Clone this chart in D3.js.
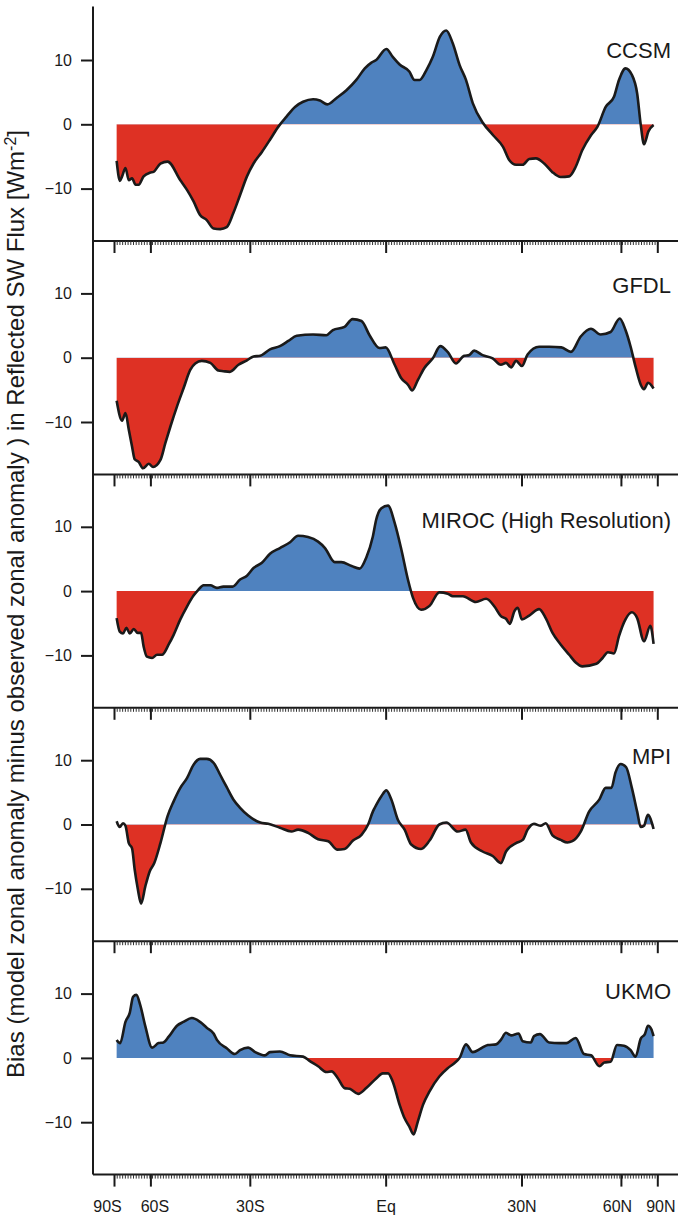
<!DOCTYPE html>
<html>
<head>
<meta charset="utf-8">
<script src="https://cdn.jsdelivr.net/npm/d3@7"></script>
<style>
  body { margin: 0; background: #fff; }
  svg { display: block; }
  text { font-family: "Liberation Sans", Arial, Helvetica, sans-serif; fill: #1a1a1a; }
</style>
</head>
<body>
<div class="plot"></div>
<script>
// model names, one panel each
const models = ["CCSM", "GFDL", "MIROC (High Resolution)", "MPI", "UKMO"];

// [latitude, bias in W m-2]
const ccsm = [[-82,-5.7],[-78,-8.8],[-76,-8.1],[-73.3,-6.8],[-71,-8.7],[-69,-8.4],[-67,-9.4],[-65.4,-9.4],[-63,-8.1],[-60,-7.5],[-58.7,-7.4],[-56,-6.1],[-53.4,-5.8],[-49.1,-8.7],[-47,-10.2],[-45,-12.0],[-43.1,-14.1],[-41.2,-14.9],[-39.3,-16.2],[-37.5,-16.3],[-35.8,-16.0],[-34.1,-13.8],[-32.4,-11.0],[-30.7,-8.1],[-29.1,-6.1],[-27.1,-4.3],[-25.2,-2.4],[-23.3,-0.4],[-21.4,1.2],[-19.5,2.7],[-17.7,3.5],[-15.5,3.9],[-14,3.7],[-12.4,3.1],[-10.4,4.1],[-8.3,5.3],[-6.2,6.9],[-4.4,8.7],[-3,9.6],[-2,10.0],[0.15,11.7],[1.5,10.5],[2.95,9.3],[5,8.2],[6.1,6.9],[7.2,6.9],[8.6,8.4],[10,10.5],[11.5,13.6],[12.9,14.6],[14.3,12.6],[15.8,9.2],[17.2,6.9],[18.7,3.3],[21,0.2],[23.3,-1.7],[25.6,-3.5],[27.1,-5.6],[28.7,-6.3],[30.3,-6.3],[31.9,-5.4],[33.6,-5.3],[35.7,-6.1],[37.8,-7.4],[40.1,-8.2],[42.5,-8.1],[44.4,-6.6],[46.4,-4.0],[49.1,-1.7],[51.2,-0.4],[54.1,2.7],[57.2,4.3],[59.2,6.9],[62,8.7],[65,7.7],[67.8,4.8],[69.9,-0.1],[72,-3.1],[75.3,-1.1],[80.5,-0.1]];

const gfdl = [[-82,-6.7],[-76,-9.8],[-73.3,-8.6],[-71,-11.2],[-69,-13.8],[-67.5,-15.8],[-65.4,-16.2],[-63.3,-17.2],[-60.7,-16.5],[-58.9,-17.0],[-56,-15.9],[-54.2,-13.3],[-52.4,-10.7],[-50.2,-7.6],[-48.1,-4.8],[-46,-1.9],[-44.5,-0.9],[-42.6,-0.5],[-40.2,-0.8],[-38,-2.0],[-36.7,-2.1],[-35,-2.2],[-32.8,-1.1],[-30.7,-0.4],[-29.1,0.2],[-27.5,0.3],[-25.2,1.3],[-22.9,1.8],[-21,2.6],[-19.1,3.4],[-15.5,3.6],[-12.6,3.5],[-11.2,4.3],[-8.7,4.8],[-7.0,6.0],[-5.1,5.7],[-3.4,3.5],[-1.3,1.5],[0,1.6],[1.9,-1.1],[3.3,-3.2],[4.7,-4.2],[5.6,-5.1],[6.8,-3.5],[8.2,-1.6],[10,-0.1],[11.6,1.8],[13.2,0.9],[15,-0.9],[16.8,0.3],[17.9,0.4],[19,1.1],[20.9,0.4],[23.2,-0.1],[25.1,-1.1],[26.3,-0.8],[27.5,-1.5],[28.7,-0.5],[30.1,-1.3],[31.5,0.5],[34.4,1.7],[37,1.7],[40.3,1.6],[43,0.9],[45.9,3.3],[49.1,4.5],[52.3,3.6],[55.9,4.0],[59.5,6.1],[62,4.3],[64.4,1.7],[66.9,-1.4],[69.9,-4.2],[72,-4.9],[75,-3.9],[80.5,-4.8]];

const miroc = [[-82,-4.2],[-78.2,-6.3],[-75.2,-6.6],[-72.6,-5.7],[-70.4,-6.6],[-68,-5.9],[-65.9,-6.5],[-64.2,-6.5],[-63,-8.6],[-61.5,-10.2],[-59.3,-10.4],[-57.3,-9.9],[-55.4,-9.9],[-53,-8.3],[-51.3,-6.8],[-49.1,-4.4],[-47,-2.4],[-45,-0.7],[-43.6,0.2],[-42.1,0.9],[-40.2,0.9],[-38.4,0.5],[-36.7,0.7],[-34.3,0.7],[-32.4,1.8],[-30.7,2.4],[-29.1,3.6],[-27.1,4.4],[-25.2,5.8],[-22.9,6.7],[-20.6,7.6],[-18.8,8.6],[-16.6,8.4],[-14.4,7.7],[-12.9,6.7],[-10.8,4.5],[-9.4,4.5],[-7.2,3.9],[-5.5,3.5],[-4.1,5.2],[-2.7,8.5],[-2,11.1],[-0.9,12.9],[0.5,13.3],[1.9,10.6],[3.3,6.5],[4.7,1.8],[5.8,-1.1],[7.5,-2.9],[9.3,-2.3],[11.4,-0.2],[13.2,-0.4],[14.3,-0.8],[16.5,-0.8],[19.4,-1.7],[21.7,-1.2],[23.6,-2.4],[25.1,-3.9],[26.3,-4.3],[27.2,-5.1],[28.3,-3.1],[29.1,-2.6],[30.1,-4.4],[31.9,-3.8],[34.4,-2.8],[36.1,-4.2],[37.9,-6.5],[40.1,-8.3],[42.5,-9.9],[44.4,-11.1],[46.4,-11.7],[50.9,-11.3],[53,-10.4],[54.9,-9.5],[57.2,-9.7],[59.2,-7.0],[62,-4.4],[65,-3.3],[67.8,-4.2],[72,-7.8],[77,-5.4],[80.5,-8.2]];

const mpi = [[-82,0.5],[-78.2,-0.4],[-75.2,0.2],[-73.3,-0.2],[-71,-2.9],[-69,-3.7],[-67.5,-7.0],[-65.9,-9.9],[-64.2,-12.3],[-62.2,-9.6],[-60.3,-7.3],[-58.4,-6.0],[-56,-2.9],[-53.4,1.3],[-51.3,3.6],[-49.1,5.7],[-47,7.2],[-45,9.3],[-43.1,10.2],[-41.2,10.2],[-39.3,9.6],[-37.5,7.7],[-35.8,5.8],[-34.1,3.9],[-32.4,2.6],[-30.4,1.4],[-27.5,0.3],[-25.6,0.1],[-22.9,-0.5],[-20.3,-1.1],[-18.8,-0.8],[-16.6,-1.3],[-14.4,-2.3],[-12.2,-2.6],[-10.3,-3.9],[-8.7,-3.8],[-6.9,-2.5],[-5.1,-1.6],[-3.7,0],[-2.7,2.0],[-2.3,2.6],[-0.9,4.4],[0.15,5.3],[1.2,3.9],[2.6,0.7],[4.0,-0.8],[5.4,-3.1],[7.5,-3.8],[9.3,-2.5],[11.4,0],[12.9,0.3],[15.4,-1.1],[17.1,-0.8],[18.3,-2.8],[20.9,-4.2],[23.2,-4.9],[25.1,-6.0],[26.3,-4.2],[28.7,-2.9],[30.3,-2.4],[31.5,-0.8],[33.1,0.1],[34.8,-0.2],[36.1,0.2],[37.9,-1.7],[40.1,-2.4],[42,-2.8],[43.4,-2.6],[45.9,-1.1],[48.5,2.0],[51.9,3.9],[54.1,5.7],[56.2,5.7],[57.8,8.1],[59.9,9.4],[62.3,8.9],[65,5.7],[67.8,2.0],[69.9,-0.4],[72,-0.2],[74.8,1.5],[80.5,-0.7]];

const ukmo = [[-82,2.8],[-77.8,2.3],[-73.3,5.6],[-70.4,7.0],[-68.4,9.5],[-66.6,9.8],[-64.6,8.2],[-62.2,4.9],[-59.3,1.6],[-56.7,2.3],[-54.9,2.4],[-53,3.3],[-50.2,5.0],[-48.1,5.6],[-45.5,6.2],[-43.1,5.6],[-41.2,4.7],[-39.3,3.8],[-38.4,2.8],[-35.8,1.5],[-33.7,0.6],[-32.4,1.2],[-30.4,1.6],[-28.7,0.9],[-26.4,0.4],[-25.2,0.9],[-22.9,1.0],[-20.6,0.4],[-17.7,0.2],[-16.2,-0.5],[-14.4,-1.3],[-12.6,-2.2],[-11.5,-2.1],[-10.1,-3.2],[-8.7,-4.7],[-7.6,-4.8],[-5.8,-5.6],[-4.1,-4.7],[-2,-3.2],[-0.6,-2.4],[0.5,-2.4],[1.5,-3.7],[2.95,-7.3],[4.0,-9.4],[5.0,-10.7],[5.9,-11.9],[6.8,-9.9],[7.9,-7.3],[9.3,-5.2],[11.4,-2.9],[13.2,-1.6],[14.7,-0.8],[15.8,0],[17.2,2.1],[18.7,0.9],[20.6,1.5],[22.1,2.0],[24,2.1],[25.1,2.8],[26.3,3.9],[27.5,3.5],[29.3,3.8],[30.3,2.6],[32.3,2.4],[33.1,3.4],[34.6,3.7],[37,2.4],[39.8,2.3],[41.7,2.3],[44.4,3.1],[46.9,0.6],[49.1,0.4],[51.9,-1.3],[53.6,-0.7],[55.9,-0.6],[58.4,2.0],[61.3,1.9],[64.4,1.2],[66.9,0.2],[69.9,3.0],[72.6,3.7],[75,5.0],[77.9,4.5],[80.5,3.4]];

const series = [ccsm, gfdl, miroc, mpi, ukmo];

// axis ticks
const yTicks = [-10, 0, 10];
const xTickLats = [-90, -60, -30, 0, 30, 60, 90];
const xTickLabels = ["90S", "60S", "30S", "Eq", "30N", "60N", "90N"];

const width = 678,
    height = 1219,
    axisX = 93,
    panelTop = 7.6,
    panelH = 233.4;

const blue = "#4f82bf",
    red = "#de3124",
    ink = "#1a1a1a";

const svg = d3.select(".plot").append("svg")
    .attr("width", width)
    .attr("height", height);

const defs = svg.append("defs");

// x is linear in sin(latitude)
const xScale = d3.scaleLinear().domain([-1, 1]).range([114, 657.3]);
const sinLat = lat => Math.sin(lat * Math.PI / 180);
const xLat = lat => xScale(sinLat(lat));

const fills = svg.append("g");
const axes = svg.append("g");

series.forEach(function(data, i) {
    const top = panelTop + i * panelH,
        bottom = top + panelH;

    const yScale = d3.scaleLinear()
        .domain([-18.15, 18.15])
        .range([bottom, top]);

    // clip regions above / below zero
    defs.append("clipPath").attr("id", "pos" + i)
        .append("rect")
        .attr("x", 0).attr("y", top)
        .attr("width", width).attr("height", yScale(0) - top);
    defs.append("clipPath").attr("id", "neg" + i)
        .append("rect")
        .attr("x", 0).attr("y", yScale(0))
        .attr("width", width).attr("height", bottom - yScale(0));

    const area = d3.area()
        .x(d => xLat(d[0]))
        .y0(yScale(0))
        .y1(d => yScale(d[1]))
        .curve(d3.curveMonotoneX);

    const line = d3.line()
        .x(d => xLat(d[0]))
        .y(d => yScale(d[1]))
        .curve(d3.curveMonotoneX);

    fills.append("path").datum(data)
        .attr("d", area)
        .attr("fill", blue)
        .attr("clip-path", "url(#pos" + i + ")");

    fills.append("path").datum(data)
        .attr("d", area)
        .attr("fill", red)
        .attr("clip-path", "url(#neg" + i + ")");

    fills.append("path").datum(data)
        .attr("d", line)
        .attr("fill", "none")
        .attr("stroke", ink)
        .attr("stroke-width", 2.6)
        .attr("stroke-linejoin", "round");

    // y axis ticks
    const yAxis = axes.append("g")
        .attr("transform", "translate(" + axisX + ",0)")
        .call(d3.axisLeft(yScale).tickValues(yTicks).tickSize(12).tickPadding(9));
    yAxis.select(".domain").remove();
    yAxis.selectAll("line").attr("stroke", ink).attr("stroke-width", 2);
    yAxis.selectAll("text")
        .attr("fill", ink)
        .style("font-size", "16px")
        .style("font-family", "'Liberation Sans', Arial, sans-serif");

    // panel bottom line
    axes.append("line")
        .attr("x1", axisX).attr("x2", width)
        .attr("y1", bottom).attr("y2", bottom)
        .attr("stroke", ink)
        .attr("stroke-width", 2);

    // minor (dotted) ticks
    const minor = axes.append("g")
        .attr("transform", "translate(0," + bottom + ")")
        .call(d3.axisBottom(xScale)
            .tickValues(d3.range(-100, 101).map(k => k / 100))
            .tickSize(4).tickFormat(""));
    minor.select(".domain").remove();
    minor.selectAll("line").attr("stroke", "#333").attr("stroke-width", 1);

    // major ticks
    const last = i === series.length - 1;
    const major = axes.append("g")
        .attr("transform", "translate(0," + bottom + ")")
        .call(d3.axisBottom(xScale)
            .tickValues(xTickLats.map(sinLat))
            .tickSize(12).tickPadding(14)
            .tickFormat((d, k) => last ? xTickLabels[k] : ""));
    major.select(".domain").remove();
    major.selectAll("line").attr("stroke", ink).attr("stroke-width", 2);
    major.selectAll("text")
        .attr("fill", ink)
        .style("font-size", "16px")
        .style("font-family", "'Liberation Sans', Arial, sans-serif")
        .attr("dx", (d, k) => [-7, 4, 0, 0, 0, -4, 3][k]);

    // model name
    axes.append("text")
        .attr("x", 671)
        .attr("y", top + 50 + 2 * i)
        .attr("text-anchor", "end")
        .style("font-size", "22px")
        .text(models[i]);
});

// shared y axis line
axes.append("line")
    .attr("x1", axisX).attr("x2", axisX)
    .attr("y1", 6.5).attr("y2", panelTop + 5 * panelH)
    .attr("stroke", ink)
    .attr("stroke-width", 2);

// y axis title
const title = svg.append("text")
    .attr("transform", "translate(24,604) rotate(-90)")
    .attr("text-anchor", "middle")
    .style("font-size", "24px");
title.append("tspan").text("Bias (model zonal anomaly minus observed zonal anomaly ) in Reflected SW Flux [Wm");
title.append("tspan").attr("baseline-shift", "super").style("font-size", "16px").text("-2");
title.append("tspan").text("]");
</script>
</body>
</html>
